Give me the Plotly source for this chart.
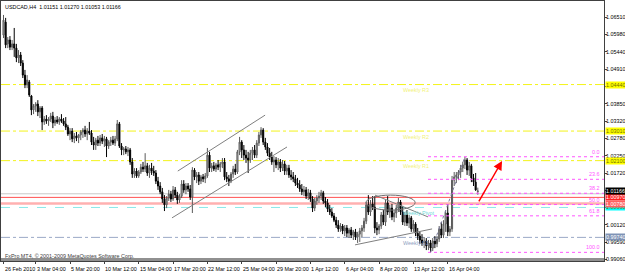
import plotly.graph_objects as go

# ---- H4 candles, prices in pips (price x 10000) ----
open_pips = [10596,10636,10569,10581,10559,10569,10556,10526,10535,10510,10473,10443,10452,10409,10366,10378,10384,10360,10372,10329,
10338,10332,10338,10347,10326,10335,10329,10338,10332,10323,10313,10292,10301,10277,10286,10280,10289,10298,10304,10292,
10301,10295,10267,10258,10273,10264,10280,10270,10277,10255,10267,10273,10264,10277,10323,10255,10243,10246,10237,10243,
10206,10169,10178,10163,10175,10190,10184,10194,10172,10187,10178,10172,10147,10132,10114,10092,10074,10095,10107,10092,
10120,10104,10089,10101,10138,10120,10132,10123,10098,10181,10160,10166,10147,10160,10154,10163,10227,10187,10194,10184,
10197,10190,10200,10206,10160,10154,10147,10169,10184,10175,10237,10267,10243,10227,10218,10212,10233,10243,10227,10264,
10289,10304,10267,10252,10233,10221,10206,10212,10197,10206,10187,10200,10178,10187,10166,10160,10154,10141,10135,10123,
10114,10120,10101,10111,10092,10064,10086,10095,10101,10111,10086,10080,10061,10052,10040,10027,10012,10000,10009,9994,
10003,9987,9997,9981,9991,9975,9984,9994,10003,10024,10074,10052,10077,10067,10003,9997,10009,10043,10021,10080,
10052,10064,10037,10049,10064,10083,10052,10021,10043,10018,10034,10000,10015,9987,9978,9966,9957,9963,9948,9957,
9941,9963,9954,9969,10000,9981,10015,10049,9991,10000,10150,10160,10166,10175,10187,10197,10212,10181,10194,10157,
10144,10115.1]
high_pips = [10658,10649,10590,10593,10581,10618,10569,10550,10544,10519,10489,10473,10458,10412,10384,10390,10396,10378,10378,10347,
10350,10344,10357,10360,10344,10347,10344,10353,10341,10344,10320,10310,10310,10295,10298,10292,10304,10310,10317,10310,
10329,10304,10283,10280,10286,10289,10292,10286,10283,10273,10283,10286,10286,10335,10329,10264,10252,10255,10252,10249,
10218,10187,10187,10181,10200,10206,10233,10203,10197,10203,10194,10181,10160,10144,10126,10104,10101,10120,10117,10132,
10129,10114,10107,10150,10150,10141,10141,10135,10190,10187,10175,10175,10166,10169,10172,10249,10237,10203,10206,10203,
10212,10206,10218,10218,10175,10166,10175,10194,10200,10243,10283,10273,10258,10243,10237,10243,10252,10258,10273,10298,
10313,10310,10280,10264,10249,10237,10224,10221,10218,10215,10212,10209,10197,10197,10181,10175,10166,10157,10150,10138,
10132,10129,10123,10120,10101,10095,10104,10114,10120,10117,10098,10092,10074,10064,10049,10037,10027,10018,10015,10012,
10012,10003,10006,9997,10000,9991,10003,10012,10034,10083,10104,10089,10101,10101,10021,10015,10052,10058,10089,10101,
10074,10077,10058,10074,10095,10089,10071,10052,10058,10043,10040,10027,10021,10003,9991,9984,9975,9972,9966,9966,
9972,9978,9978,10009,10021,10027,10058,10074,10009,10163,10175,10175,10181,10197,10206,10222,10218,10206,10200,10169,
10172,10127.0]
low_pips = [10587,10556,10556,10550,10550,10529,10513,10510,10501,10464,10433,10433,10406,10350,10353,10360,10347,10341,10304,10320,
10323,10317,10329,10310,10317,10323,10320,10326,10317,10304,10286,10273,10267,10264,10270,10264,10273,10280,10283,10273,
10289,10258,10243,10243,10255,10255,10261,10252,10221,10246,10255,10258,10255,10270,10249,10227,10227,10230,10224,10197,
10157,10157,10157,10157,10169,10175,10175,10163,10157,10166,10163,10138,10120,10107,10080,10055,10064,10086,10083,10086,
10095,10077,10080,10095,10111,10107,10114,10089,10049,10150,10141,10135,10138,10144,10141,10157,10175,10175,10178,10175,
10181,10175,10187,10150,10144,10132,10141,10157,10166,10169,10227,10218,10212,10203,10172,10203,10212,10218,10218,10255,
10280,10258,10243,10224,10212,10197,10175,10187,10181,10175,10178,10166,10166,10157,10150,10144,10132,10126,10114,10104,
10101,10092,10089,10083,10052,10055,10074,10080,10089,10077,10067,10052,10043,10034,10021,10003,9991,9991,9984,9978,
9975,9972,9972,9966,9966,9957,9960,9975,9991,10015,10043,10040,10058,9987,9981,9984,10000,10012,10009,10043,
10034,10027,10021,10034,10052,10043,10012,10009,10009,10003,9991,9991,9978,9966,9954,9948,9941,9935,9935,9928,
9932,9941,9944,9960,9972,9972,9991,9978,9978,9991,10132,10141,10150,10157,10175,10184,10166,10163,10144,10132,
10117,10105.3]
close_pips = [10642,10566,10581,10559,10569,10556,10526,10535,10510,10473,10443,10458,10412,10366,10378,10384,10360,10372,10329,10338,
10332,10338,10347,10326,10335,10329,10338,10332,10323,10313,10292,10301,10277,10286,10280,10289,10298,10304,10292,10301,
10295,10267,10258,10273,10264,10280,10270,10277,10255,10267,10273,10264,10277,10323,10255,10243,10246,10237,10243,10206,
10169,10178,10163,10175,10190,10184,10194,10172,10187,10178,10172,10147,10132,10114,10092,10074,10095,10107,10092,10120,
10104,10089,10101,10138,10120,10132,10123,10098,10181,10160,10166,10147,10160,10154,10163,10227,10187,10194,10184,10197,
10190,10200,10206,10160,10154,10147,10169,10184,10175,10237,10267,10243,10227,10218,10212,10233,10243,10227,10264,10289,
10304,10267,10252,10233,10221,10206,10212,10197,10206,10187,10200,10178,10187,10166,10160,10154,10141,10135,10123,10114,
10120,10101,10111,10092,10064,10086,10095,10101,10111,10086,10080,10061,10052,10040,10027,10012,10000,10009,9994,10003,
9987,9997,9981,9991,9975,9984,9994,10003,10024,10074,10052,10077,10067,10003,9997,10009,10043,10021,10080,10052,
10064,10037,10049,10064,10083,10052,10021,10043,10018,10034,10000,10015,9987,9978,9966,9957,9963,9948,9957,9941,
9963,9954,9969,10000,9981,10015,10049,9991,10000,10150,10160,10166,10175,10187,10197,10212,10181,10194,10157,10144,
10120,10116.6]

bars = list(range(len(close_pips)))
o = [v / 10000 for v in open_pips]
h = [v / 10000 for v in high_pips]
l = [v / 10000 for v in low_pips]
c = [v / 10000 for v in close_pips]

# ---- time axis labels (bar index -> label) ----
time_tick_bars = [0, 15, 31, 47, 63, 79, 95, 111, 127, 143, 159, 175, 191, 207]
time_tick_text = ["26 Feb 2010", "3 Mar 04:00", "5 Mar 20:00", "10 Mar 12:00", "15 Mar 04:00",
                  "17 Mar 20:00", "22 Mar 12:00", "25 Mar 04:00", "29 Mar 20:00", "1 Apr 12:00",
                  "6 Apr 04:00", "8 Apr 20:00", "13 Apr 12:00", "16 Apr 04:00"]

# ---- price axis labels ----
price_tick_vals = [1.06508, 1.05976, 1.05444, 1.04912, 1.04380, 1.03848, 1.03316, 1.02784,
                   1.02252, 1.01720, 1.01188, 1.00656, 1.00124, 0.99592, 0.99060]
price_tick_text = ["1.06510", "1.05980", "1.05440", "1.04910", "1.04380", "1.03850", "1.03320", "1.02780",
                   "1.02250", "1.01720", "1.01190", "1.00660", "1.00120", "0.99590", "0.99060"]

# ---- horizontal levels ----
pivot_names = ["Weekly R3", "Weekly R2", "Weekly R1", "Weekly Pivot", "Weekly S1"]
pivot_prices = [1.04440, 1.03010, 1.02100, 1.00660, 0.99740]
pivot_colors = ["#f2f200", "#f2f200", "#f2f200", "#7fe5e5", "#8f9fbf"]
pivot_dash = ["dashdot", "dashdot", "dashdot", "dash", "dashdot"]
pivot_text_colors = ["#f2f27a", "#f2f27a", "#f2f27a", "#70d8d8", "#8f9fbf"]
pivot_label_bg = ["#ffff00", "#ffff00", "#ffff00", "#00ffff", "#7f93b5"]

hline_prices = [1.01080, 1.00970, 1.00780]
hline_colors = ["#c8c8c8", "#ff5050", "#ffb0b0"]
hline_widths = [1, 1, 2.5]
hline_label_bg = [None, "#ff2020", "#ff6060"]

bid_price = 1.01166

# ---- drawings: (bar, price) anchors ----
channel_upper = ([81.2, 121.9], [1.0178, 1.0350])
channel_lower = ([78.5, 132.1], [1.0034, 1.0252])
wedge_upper = ([173.1, 197.8], [1.0104, 1.0037])
wedge_lower = ([163.8, 199.7], [0.9951, 1.0000])
ellipse_box = ([168.9, 191.8], [1.0058, 1.0104])
fib_anchor_bars = [199, 215]
fib_anchor_prices = [0.9928, 1.0222]
fib_start_bar = 197.8
fib_ratios = [0.0, 0.236, 0.382, 0.5, 0.618, 1.0]
fib_text = ["0.0", "23.6", "38.2", "50.0", "61.8", "100.0"]
arrow_from = (221.1, 1.0080)
arrow_to = (232.3, 1.0209)

FONT = "Liberation Sans"
FS = 5.4

fig = go.Figure()
fig.add_trace(go.Candlestick(
    x=bars, open=o, high=h, low=l, close=c,
    increasing=dict(line=dict(color="#5a5a5a", width=1), fillcolor="#d0d0d0"),
    decreasing=dict(line=dict(color="#000000", width=1), fillcolor="#000000"),
    whiskerwidth=0, showlegend=False, hoverinfo="skip"))

shapes = []
annotations = []

def hline(price, color, width, dash="solid"):
    shapes.append(dict(type="line", xref="paper", yref="y", x0=0, x1=1,
                       y0=price, y1=price, line=dict(color=color, width=width, dash=dash), layer="below"))

for p, col, w in zip(hline_prices, hline_colors, hline_widths):
    hline(p, col, w)
for name, p, col, d, tc in zip(pivot_names, pivot_prices, pivot_colors, pivot_dash, pivot_text_colors):
    hline(p, col, 0.9, d)
    annotations.append(dict(x=185, y=p, xref="x", yref="y", text=name, showarrow=False,
                            xanchor="left", yanchor="top", yshift=-0.5,
                            font=dict(family=FONT, size=FS, color=tc)))

# Fibonacci
hi, lo = fib_anchor_prices[1], fib_anchor_prices[0]
for r, t in zip(fib_ratios, fib_text):
    lev = hi - r * (hi - lo)
    shapes.append(dict(type="line", xref="x", yref="y", x0=fib_start_bar, x1=280, y0=lev, y1=lev,
                       line=dict(color="#ff55ff", width=1, dash="dot")))
    annotations.append(dict(x=1, y=lev, xref="paper", yref="y", text=t, showarrow=False,
                            xanchor="right", yanchor="bottom", xshift=-2,
                            font=dict(family=FONT, size=FS, color="#ff55ff")))
shapes.append(dict(type="line", xref="x", yref="y", x0=fib_anchor_bars[0], x1=fib_anchor_bars[1],
                   y0=fib_anchor_prices[0], y1=fib_anchor_prices[1],
                   line=dict(color="#8080a0", width=1, dash="dot")))

# channels and wedge
for (xs, ys) in [channel_upper, channel_lower, wedge_upper, wedge_lower]:
    shapes.append(dict(type="line", xref="x", yref="y", x0=xs[0], x1=xs[1], y0=ys[0], y1=ys[1],
                       line=dict(color="#808080", width=1)))
shapes.append(dict(type="circle", xref="x", yref="y", x0=ellipse_box[0][0], x1=ellipse_box[0][1],
                   y0=ellipse_box[1][0], y1=ellipse_box[1][1], line=dict(color="#707070", width=1)))

# bottom strip
shapes.append(dict(type="rect", xref="paper", yref="paper", x0=0, x1=1, y0=0, y1=0.012,
                   fillcolor="#909090", line=dict(width=0)))

# arrow
annotations.append(dict(x=arrow_to[0], y=arrow_to[1], ax=arrow_from[0], ay=arrow_from[1],
                        xref="x", yref="y", axref="x", ayref="y", text="", showarrow=True,
                        arrowhead=2, arrowsize=1.2, arrowwidth=1.5, arrowcolor="#ff0000"))

# price labels on right axis
def price_label(p, bg, fc):
    annotations.append(dict(x=1, y=p, xref="paper", yref="y", text=f"{p:.5f}", showarrow=False,
                            xanchor="left", yanchor="middle", xshift=1, bgcolor=bg, borderpad=0,
                            font=dict(family=FONT, size=FS, color=fc)))

for p, bg in zip(pivot_prices, pivot_label_bg):
    price_label(p, bg, "#ffffff" if bg == "#7f93b5" else "#707000")
for p, bg in zip(hline_prices, hline_label_bg):
    if bg:
        price_label(p, bg, "#ffffff")
price_label(bid_price, "#000000", "#ffffff")

# time labels, left-aligned at their tick as in the terminal
for b, t in zip(time_tick_bars, time_tick_text):
    annotations.append(dict(x=b, y=0, xref="x", yref="paper", text=t, showarrow=False,
                            xanchor="left", yanchor="top", yshift=-3, xshift=-1,
                            font=dict(family=FONT, size=FS, color="#000000")))

# header & copyright
annotations.append(dict(x=0, y=1, xref="paper", yref="paper", xanchor="left", yanchor="top",
                        xshift=2, yshift=-1, showarrow=False,
                        text="USDCAD,H4  1.01151 1.01270 1.01053 1.01166",
                        font=dict(family=FONT, size=FS, color="#000000")))
annotations.append(dict(x=0, y=0, xref="paper", yref="paper", xanchor="left", yanchor="bottom",
                        xshift=2, yshift=0, showarrow=False,
                        text="FxPro MT4, © 2001-2009 MetaQuotes Software Corp.",
                        font=dict(family=FONT, size=FS, color="#404040")))

fig.update_layout(
    width=625, height=274,
    margin=dict(l=1, r=21, t=1, b=13),
    paper_bgcolor="white", plot_bgcolor="white",
    shapes=shapes, annotations=annotations,
    font=dict(family=FONT, size=FS, color="#000000"),
    xaxis=dict(range=[-1.165, 279.8], rangeslider=dict(visible=False), showgrid=False, zeroline=False,
               tickmode="array", tickvals=time_tick_bars, showticklabels=False,
               ticks="outside", ticklen=2, tickcolor="#404040",
               showline=True, linecolor="#404040", linewidth=1, mirror=True, automargin=False),
    yaxis=dict(range=[0.99014, 1.07009], side="right", showgrid=False, zeroline=False,
               tickmode="array", tickvals=price_tick_vals, ticktext=price_tick_text,
               ticks="outside", ticklen=2, tickcolor="#404040", ticklabelstandoff=-2,
               showline=True, linecolor="#404040", linewidth=1, mirror=True, automargin=False,
               tickfont=dict(family=FONT, size=FS, color="#000000")),
)

fig.write_html("out.html")
